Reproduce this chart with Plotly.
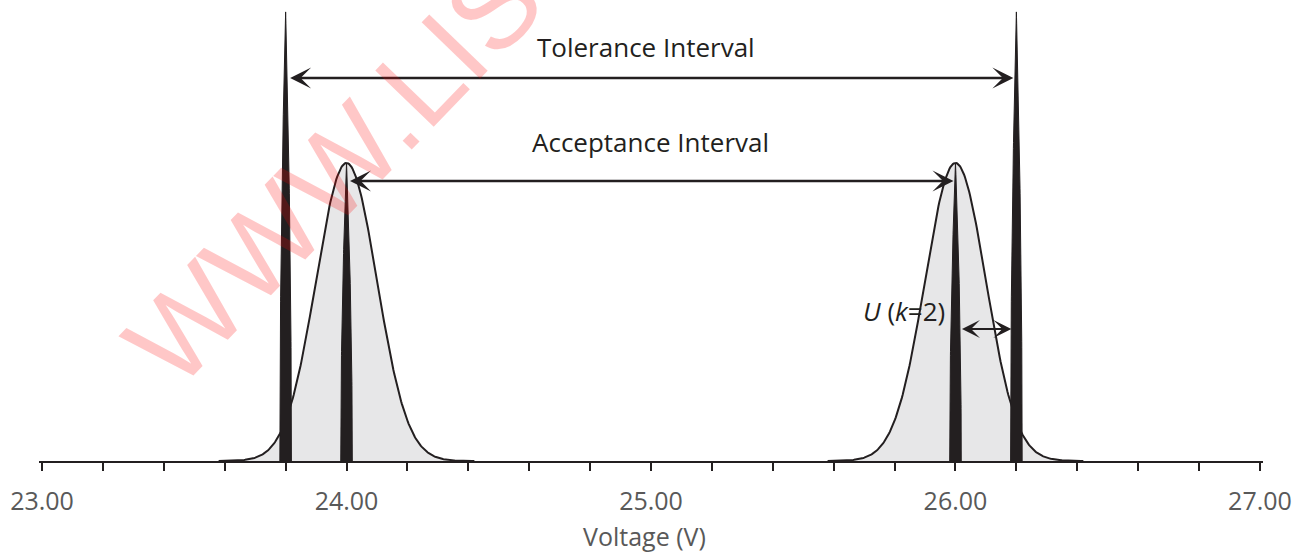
import numpy as np
import plotly.graph_objects as go

# Measurement distributions at the two acceptance limits
dist_means = [24.00, 26.00]
dist_sigma = 0.10

# Tolerance limits and acceptance limits (V)
tolerance_limits = [23.80, 26.20]
acceptance_limits = [24.00, 26.00]

# Relative heights of the limit markers (distribution peak = 1)
tolerance_height = 1.507
acceptance_height = 1.0
marker_halfwidth = 0.019

# Axis ticks
major_ticks = [23.0, 24.0, 25.0, 26.0, 27.0]
tick_labels = ["23.00", "24.00", "25.00", "26.00", "27.00"]

INK = "#231f20"
FILL = "#e7e7e8"


def bell(mu, sigma):
    x = np.linspace(mu - 0.42, mu + 0.42, 301)
    return x, np.exp(-0.5 * ((x - mu) / sigma) ** 2)


def limit_marker(c, height, hw, n=80):
    h = np.linspace(0, height, n)
    d = hw * (1 - (h / height) ** 2)
    xs = np.concatenate([c - d, (c + d)[::-1]])
    ys = np.concatenate([h, h[::-1]])
    return xs, ys


fig = go.Figure()

for mu in dist_means:
    x, y = bell(mu, dist_sigma)
    fig.add_trace(go.Scatter(
        x=x, y=y, mode="lines", fill="tozeroy", fillcolor=FILL,
        line=dict(color=INK, width=2), hoverinfo="skip", showlegend=False))

for c in tolerance_limits:
    xs, ys = limit_marker(c, tolerance_height, marker_halfwidth)
    fig.add_trace(go.Scatter(
        x=xs, y=ys, mode="lines", fill="toself", fillcolor=INK,
        line=dict(color=INK, width=1), hoverinfo="skip", showlegend=False))

for c in acceptance_limits:
    xs, ys = limit_marker(c, acceptance_height, marker_halfwidth)
    fig.add_trace(go.Scatter(
        x=xs, y=ys, mode="lines", fill="toself", fillcolor=INK,
        line=dict(color=INK, width=1), hoverinfo="skip", showlegend=False))


def double_arrow(x0, x1, y, standoff, width=2.5, size=1.4):
    fig.add_annotation(
        x=x1, y=y, ax=x0, ay=y, xref="x", yref="y", axref="x", ayref="y",
        text="", showarrow=True, arrowside="end+start",
        arrowhead=3, startarrowhead=3, arrowwidth=width,
        arrowsize=size, startarrowsize=size, arrowcolor=INK,
        standoff=standoff, startstandoff=standoff)


# Tolerance interval
double_arrow(tolerance_limits[0], tolerance_limits[1], 1.285, 3)
fig.add_annotation(x=24.985, y=1.389, xref="x", yref="y", text="Tolerance Interval",
                   showarrow=False, font=dict(family="Open Sans", size=26, color=INK))

# Acceptance interval
double_arrow(acceptance_limits[0], acceptance_limits[1], 0.94, 2)
fig.add_annotation(x=24.997, y=1.071, xref="x", yref="y", text="Acceptance Interval",
                   showarrow=False, font=dict(family="Open Sans", size=26, color=INK))

# Expanded uncertainty between acceptance and tolerance limit
double_arrow(acceptance_limits[1], tolerance_limits[1], 0.443, 5, width=2, size=1.5)
fig.add_annotation(x=25.972, y=0.505, xref="x", yref="y", text="<i>U</i> (<i>k</i>=2)",
                   xanchor="right", showarrow=False,
                   font=dict(family="Open Sans", size=26, color=INK))

# Axis title
fig.add_annotation(x=0.495, y=-0.163, xref="paper", yref="paper", text="Voltage (V)",
                   xanchor="center", yanchor="middle", showarrow=False,
                   font=dict(family="Open Sans", size=25, color="#595959"))

# Site watermark
fig.add_annotation(x=0.241, y=0.629, xref="paper", yref="paper", text="WWW.LIS",
                   xanchor="center", yanchor="middle",
                   textangle=-46, showarrow=False,
                   font=dict(family="Liberation Sans", size=118, color="rgba(255,0,0,0.22)"))

fig.update_xaxes(
    range=[22.99, 27.01], showgrid=False, zeroline=False,
    showline=True, linecolor=INK, linewidth=2,
    tickmode="array", tickvals=major_ticks, ticktext=tick_labels,
    ticks="outside", ticklen=8, tickwidth=2, tickcolor=INK,
    tickfont=dict(family="Open Sans", size=25, color="#595959"),
    ticklabelstandoff=9,
    minor=dict(dtick=0.2, ticks="outside", ticklen=8, tickwidth=2, tickcolor=INK),
)
fig.update_yaxes(range=[0, 1.547], visible=False)

fig.update_layout(
    width=1306, height=557,
    margin=dict(l=39, r=43, t=0, b=96),
    plot_bgcolor="white", paper_bgcolor="white",
)

fig.write_html("out.html")
